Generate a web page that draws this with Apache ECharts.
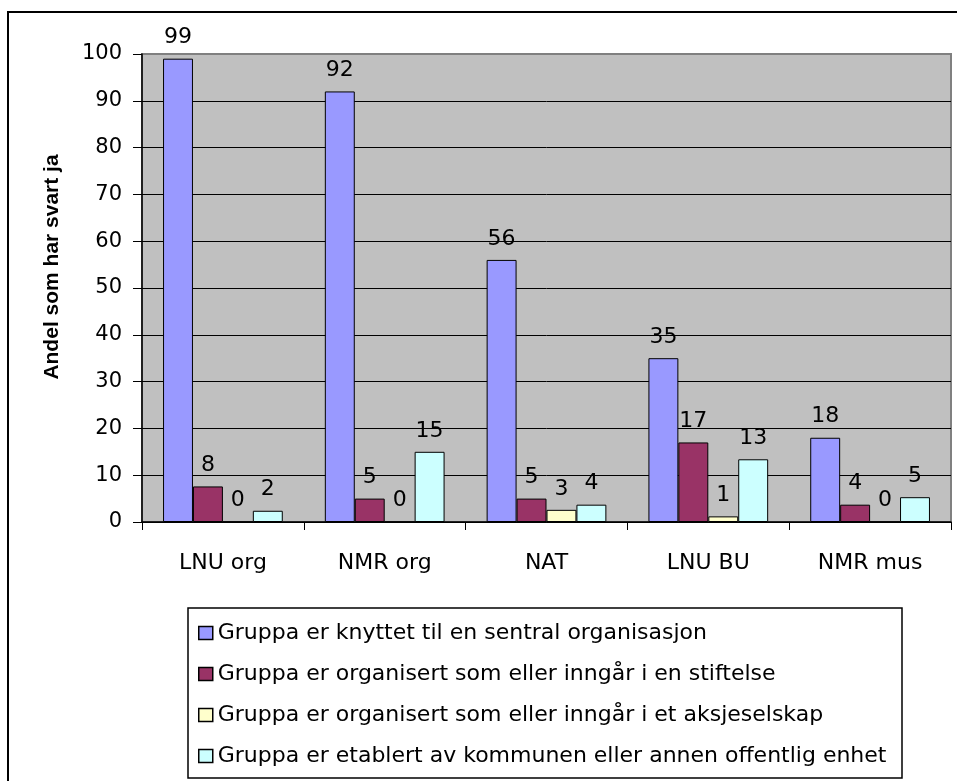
<!DOCTYPE html>
<html lang="no">
<head>
	<meta charset="UTF-8">
	<title>Andel som har svart ja</title>
	<script src="https://cdn.jsdelivr.net/npm/echarts@6/dist/echarts.min.js"></script>
	<style>
		html, body { margin: 0; padding: 0; background: #fff; }
	</style>
</head>
<body>
	<div id="chart" style="width: 957px; height: 781px;"></div>
	<script type="text/javascript">

		// data
		const categories = ['LNU org', 'NMR org', 'NAT', 'LNU BU', 'NMR mus'];
		const seriesNames = [
			'Gruppa er knyttet til en sentral organisasjon',
			'Gruppa er organisert som eller inngår i en stiftelse',
			'Gruppa er organisert som eller inngår i et aksjeselskap',
			'Gruppa er etablert av kommunen eller annen offentlig enhet'
		];
		const sentral = [99, 92, 56, 35, 18];
		const stiftelse = [7.6, 5, 5, 17, 3.7];
		const aksjeselskap = [0, 0, 2.6, 1.2, 0];
		const kommunen = [2.4, 15, 3.7, 13.4, 5.3];
		const colors = ['#9999FF', '#993366', '#FFFFCC', '#CCFFFF'];

		const font = 'DejaVu Sans';
		const chart = echarts.init(document.getElementById('chart'));

		const makeSeries = (name, data, color) => ({
			name: name,
			type: 'bar',
			data: data,
			barGap: 0,
			barCategoryGap: '26%',
			itemStyle: { color: color, borderColor: '#000', borderWidth: 1 },
			label: {
				show: true,
				position: 'top',
				distance: 10,
				color: '#000',
				fontFamily: font,
				fontSize: 22,
				formatter: (p) => String(Math.round(p.value))
			}
		});

		// top grid line is the grey plot border, the others are black
		const gridLineColors = [];
		for (let i = 0; i < 10; i++) gridLineColors.push('#000');
		gridLineColors.push('#808080');

		chart.setOption({
			animation: false,
			textStyle: { fontFamily: font },
			graphic: [
				{
					type: 'rect',
					shape: { x: 8, y: 12, width: 960, height: 780 },
					style: { fill: 'none', stroke: '#000', lineWidth: 2 },
					z: -10
				},
				{
					type: 'rect',
					shape: { x: 188, y: 608, width: 714, height: 170 },
					style: { fill: '#fff', stroke: '#000', lineWidth: 1.5 },
					z: -5
				}
			],
			grid: {
				left: 142,
				top: 54,
				right: 6,
				bottom: 259,
				show: true,
				backgroundColor: '#C0C0C0',
				borderColor: '#808080',
				borderWidth: 2,
				outerBoundsMode: 'none'
			},
			legend: {
				orient: 'vertical',
				left: 188,
				top: 608,
				padding: [14, 10, 12, 10],
				itemGap: 19,
				itemWidth: 14,
				itemHeight: 13,
				icon: 'rect',
				selectedMode: false,
				textStyle: { fontFamily: font, fontSize: 22, color: '#000' },
				itemStyle: { borderColor: '#000', borderWidth: 1.5 },
				data: seriesNames
			},
			xAxis: {
				type: 'category',
				data: categories,
				axisLine: { lineStyle: { color: '#000', width: 1.5 } },
				axisTick: { show: true, length: 8, lineStyle: { color: '#000' } },
				axisLabel: { margin: 30, color: '#000', fontFamily: font, fontSize: 22 }
			},
			yAxis: {
				type: 'value',
				min: 0,
				max: 100,
				interval: 10,
				name: 'Andel som har svart ja',
				nameLocation: 'middle',
				nameGap: 79,
				nameRotate: 90,
				nameTextStyle: {
					fontFamily: 'Liberation Sans',
					fontWeight: 'bold',
					fontSize: 21,
					color: '#000',
					padding: [0, 0, 0, 42]
				},
				axisLine: { show: true, lineStyle: { color: '#000', width: 1.5 } },
				axisTick: { show: true, length: 9, lineStyle: { color: '#000' } },
				axisLabel: { margin: 20, color: '#000', fontFamily: font, fontSize: 21 },
				splitLine: { show: true, lineStyle: { color: gridLineColors, width: 1 } }
			},
			series: [
				makeSeries(seriesNames[0], sentral, colors[0]),
				makeSeries(seriesNames[1], stiftelse, colors[1]),
				makeSeries(seriesNames[2], aksjeselskap, colors[2]),
				makeSeries(seriesNames[3], kommunen, colors[3])
			]
		});
	</script>
</body>
</html>
